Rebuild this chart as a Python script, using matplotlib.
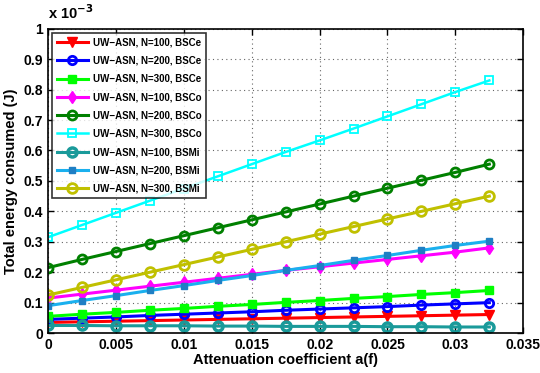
import matplotlib
matplotlib.use("Agg")
import matplotlib.pyplot as plt
import numpy as np

plt.rcParams['font.family'] = ['Liberation Sans', 'DejaVu Sans']
plt.rcParams['font.weight'] = 'bold'

# attenuation coefficient a(f)
atten = [0.0, 0.0025, 0.005, 0.0075, 0.01, 0.0125, 0.015, 0.0175,
         0.02, 0.0225, 0.025, 0.0275, 0.03, 0.0325]

# total energy consumed, in units of 1e-3 J
n100_bsce = [0.035, 0.037, 0.039, 0.041, 0.043, 0.045, 0.047, 0.049, 0.051, 0.053, 0.055, 0.057, 0.059, 0.061]
n200_bsce = [0.045, 0.049, 0.053, 0.058, 0.062, 0.066, 0.070, 0.075, 0.079, 0.083, 0.087, 0.092, 0.096, 0.100]
n300_bsce = [0.055, 0.062, 0.068, 0.075, 0.081, 0.088, 0.094, 0.101, 0.107, 0.114, 0.120, 0.127, 0.133, 0.140]
n100_bsco = [0.115, 0.128, 0.141, 0.154, 0.167, 0.180, 0.193, 0.206, 0.218, 0.230, 0.242, 0.254, 0.266, 0.280]
n200_bsco = [0.215, 0.242, 0.268, 0.294, 0.320, 0.346, 0.372, 0.398, 0.424, 0.450, 0.476, 0.502, 0.528, 0.555]
n300_bsco = [0.315, 0.355, 0.395, 0.435, 0.475, 0.515, 0.555, 0.595, 0.633, 0.672, 0.712, 0.752, 0.792, 0.830]
n100_bsmi = [0.025, 0.025, 0.024, 0.024, 0.024, 0.023, 0.023, 0.022, 0.022, 0.022, 0.021, 0.021, 0.020, 0.020]
n200_bsmi = [0.090, 0.107, 0.123, 0.140, 0.156, 0.173, 0.189, 0.206, 0.222, 0.239, 0.255, 0.272, 0.288, 0.302]
n300_bsmi = [0.125, 0.150, 0.175, 0.200, 0.225, 0.250, 0.275, 0.300, 0.325, 0.350, 0.375, 0.400, 0.425, 0.450]

labels = ['UW\u2212ASN, N=100, BSCe', 'UW\u2212ASN, N=200, BSCe', 'UW\u2212ASN, N=300, BSCe',
          'UW\u2212ASN, N=100, BSCo', 'UW\u2212ASN, N=200, BSCo', 'UW\u2212ASN, N=300, BSCo',
          'UW\u2212ASN, N=100, BSMi', 'UW\u2212ASN, N=200, BSMi', 'UW\u2212ASN, N=300, BSMi']

series = [n100_bsce, n200_bsce, n300_bsce, n100_bsco, n200_bsco, n300_bsco,
          n100_bsmi, n200_bsmi, n300_bsmi]

styles = [
    dict(color='#ff0000', marker='v', ms=7, mfc='#ff0000', lw=2.2),
    dict(color='#0000ff', marker='o', ms=6, mfc='none', mew=2, lw=2.2),
    dict(color='#00ff00', marker='s', ms=6, mfc='#00ff00', lw=2.2),
    dict(color='#ff00ff', marker='d', ms=6, mfc='#ff00ff', lw=2.2),
    dict(color='#008000', marker='o', ms=6.5, mfc='none', mew=2, lw=2.2),
    dict(color='#00ffff', marker='s', ms=5.5, mfc='none', mew=1.3, lw=1.8),
    dict(color='#1a9a9a', marker='o', ms=6.5, mfc='none', mew=2.5, lw=2.2),
    dict(color='#1ab0ee', marker='s', ms=4, mfc='#1f7fc4', mec='#1f7fc4', lw=2.2),
    dict(color='#c0c000', marker='o', ms=7, mfc='none', mew=2, lw=2.2),
]

fig = plt.figure(figsize=(5.4, 3.73), dpi=100)
ax = fig.add_axes([0.089, 0.107, 0.880, 0.816])

x = np.array(atten)
for vals, lab, st in zip(series, labels, styles):
    ax.plot(x, np.array(vals) * 1e-3, label=lab, **st)

ax.set_xlim(0, 0.035)
ax.set_ylim(0, 1e-3)
ax.set_xticks(np.arange(0, 0.0351, 0.005))
ax.set_xticklabels(['0', '0.005', '0.01', '0.015', '0.02', '0.025', '0.03', '0.035'])
ax.set_yticks(np.arange(0, 1.01e-3, 0.1e-3))
ax.set_yticklabels(['0', '0.1', '0.2', '0.3', '0.4', '0.5', '0.6', '0.7', '0.8', '0.9', '1'])
ax.tick_params(direction='in', top=True, right=True, labelsize=10, length=4, width=1)
for lbl in ax.get_xticklabels() + ax.get_yticklabels():
    lbl.set_fontweight('bold')
ax.grid(True, linestyle=(0, (1, 3)), color='#666666', linewidth=0.8)
for sp in ax.spines.values():
    sp.set_linewidth(1.2)

ax.set_xlabel('Attenuation coefficient a(f)', fontsize=10.5, fontweight='bold', labelpad=1)
ax.set_ylabel('Total energy consumed (J)', fontsize=10.5, fontweight='bold', labelpad=4)
fig.text(0.089, 0.94, r'x 10$^{\mathbf{-3}}$', fontsize=10.5, fontweight='bold', va='bottom', ha='left')

leg = ax.legend(loc='upper left', fontsize=7, frameon=True, fancybox=False,
                edgecolor='black', borderpad=0.5, labelspacing=0.85,
                handlelength=3.2, handletextpad=0.5, borderaxespad=0.4)
leg.get_frame().set_linewidth(1.2)
for t in leg.get_texts():
    t.set_fontweight('bold')

fig.savefig('out.png', dpi=100)
